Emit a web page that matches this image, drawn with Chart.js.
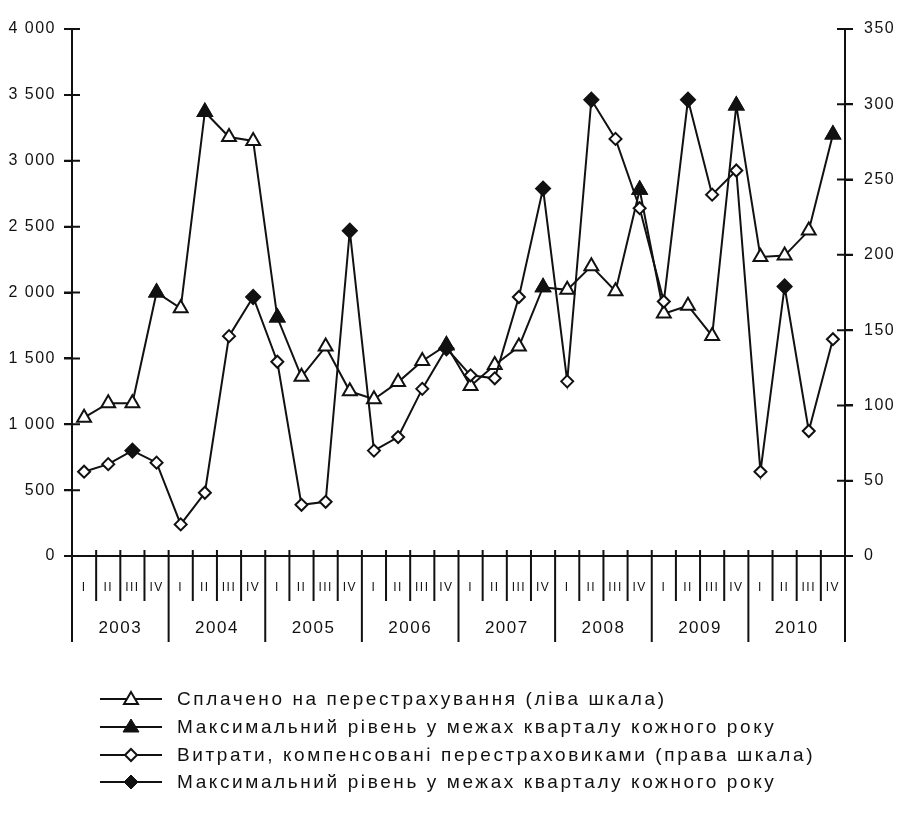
<!DOCTYPE html>
<html>
<head>
<meta charset="utf-8">
<script src="https://cdn.jsdelivr.net/npm/chart.js@4/dist/chart.umd.min.js"></script>
<style>
  html, body { margin: 0; padding: 0; background: #fff; }
  #wrap { position: relative; width: 904px; height: 834px; }
  #legend { position: absolute; left: 0; top: 0; font-family: "Liberation Sans", Arial, sans-serif; font-size: 19px; letter-spacing: 2.6px; color: #111; }
  .row { position: absolute; left: 100px; height: 24px; display: flex; align-items: center; white-space: nowrap; }
  .row svg { margin-right: 15px; }
</style>
</head>
<body>
<div id="wrap">
  <canvas id="chart" width="904" height="834"></canvas>
  <div id="legend"></div>
</div>
<script>
console.log("chart init");

const ink = '#111';

// quarters and years
const quarters = ['I', 'II', 'III', 'IV', 'I', 'II', 'III', 'IV', 'I', 'II', 'III', 'IV', 'I', 'II', 'III', 'IV',
                  'I', 'II', 'III', 'IV', 'I', 'II', 'III', 'IV', 'I', 'II', 'III', 'IV', 'I', 'II', 'III', 'IV'];
const years = ['2003', '2004', '2005', '2006', '2007', '2008', '2009', '2010'];

// Сплачено на перестрахування (ліва шкала)
const paidValues = [1050, 1160, 1160, 2000, 1880, 3370, 3180, 3150,
                    1810, 1360, 1590, 1250, 1190, 1320, 1480, 1600,
                    1290, 1450, 1590, 2040, 2020, 2200, 2010, 2780,
                    1840, 1900, 1670, 3420, 2270, 2280, 2470, 3200];

// Витрати, компенсовані перестраховиками (права шкала)
const costValues = [56, 61, 70, 62, 21, 42, 146, 172,
                    129, 34, 36, 216, 70, 79, 111, 138,
                    120, 118, 172, 244, 116, 303, 277, 231,
                    169, 303, 240, 256, 56, 179, 83, 144];

const leftTicks = [0, 4000, 500];
const rightTicks = [0, 350, 50];

const legendLabels = [
    'Сплачено на перестрахування (ліва шкала)',
    'Максимальний рівень у межах кварталу кожного року',
    'Витрати, компенсовані перестраховиками (права шкала)',
    'Максимальний рівень у межах кварталу кожного року'
];

// keep only the max quarter of each year, others null
const yearMax = (values) => {
    const out = values.map(() => null);
    years.forEach((y, k) => {
        const chunk = values.slice(k * 4, k * 4 + 4);
        const idx = chunk.indexOf(Math.max(...chunk));
        out[k * 4 + idx] = values[k * 4 + idx];
    });
    return out;
}

const fmt = (v) => String(v).replace(/\B(?=(\d{3})+(?!\d))/g, ' ');

const font = (size) => ({ family: '"Liberation Sans", Arial, sans-serif', size: size });

// wide spaced digits like the print
const spacing = {
    id: 'spacing',
    beforeDraw(chart) {
        chart.ctx.letterSpacing = '1.5px';
    }
};

// crossing ticks on y axes and the quarter / year separators under the x axis
const axisMarks = {
    id: 'axisMarks',
    afterDraw(chart) {
        const {ctx, scales} = chart;
        ctx.save();
        ctx.strokeStyle = ink;
        ctx.lineWidth = 2;
        ctx.beginPath();
        ['y', 'y1'].forEach(id => {
            const s = scales[id];
            const x0 = id === 'y' ? s.right : s.left;
            s.ticks.forEach((t, i) => {
                const py = s.getPixelForTick(i);
                ctx.moveTo(x0 - 8, py);
                ctx.lineTo(x0 + 8, py);
            });
        });
        const xs = scales.x;
        const half = (xs.getPixelForValue(1) - xs.getPixelForValue(0)) / 2;
        const base = xs.top;
        for (let i = 0; i <= quarters.length; i++) {
            const px = xs.getPixelForValue(i) - half;
            ctx.moveTo(px, base - 6);
            ctx.lineTo(px, i % 4 === 0 ? base + 86 : base + 45);
        }
        ctx.stroke();
        ctx.restore();
    }
};

const ctx = document.getElementById('chart').getContext('2d');

const myChart = new Chart(ctx, {
    type: 'line',
    data: {
        labels: quarters,
        datasets: [
            {
                label: legendLabels[0],
                data: paidValues,
                yAxisID: 'y',
                borderColor: ink,
                borderWidth: 2,
                pointStyle: 'triangle',
                pointRadius: 8,
                pointBorderWidth: 2,
                pointBackgroundColor: '#fff',
                pointBorderColor: ink,
                tension: 0,
                order: 4
            },
            {
                label: legendLabels[1],
                data: yearMax(paidValues),
                yAxisID: 'y',
                showLine: false,
                pointStyle: 'triangle',
                pointRadius: 8,
                pointBorderWidth: 2,
                pointBackgroundColor: ink,
                pointBorderColor: ink,
                order: 2
            },
            {
                label: legendLabels[2],
                data: costValues,
                yAxisID: 'y1',
                borderColor: ink,
                borderWidth: 2,
                pointStyle: 'rectRot',
                pointRadius: 6,
                pointBorderWidth: 2,
                pointBackgroundColor: '#fff',
                pointBorderColor: ink,
                tension: 0,
                order: 3
            },
            {
                label: legendLabels[3],
                data: yearMax(costValues),
                yAxisID: 'y1',
                showLine: false,
                pointStyle: 'rectRot',
                pointRadius: 7,
                pointBorderWidth: 2,
                pointBackgroundColor: ink,
                pointBorderColor: ink,
                order: 1
            }
        ]
    },
    options: {
        responsive: false,
        animation: false,
        layout: { padding: { top: 29, bottom: 177, left: 0, right: 0 } },
        plugins: {
            legend: { display: false },
            tooltip: { enabled: false }
        },
        scales: {
            x: {
                type: 'category',
                position: 'bottom',
                offset: true,
                grid: { display: false, drawTicks: false },
                border: { display: true, color: ink, width: 2 },
                ticks: {
                    color: ink,
                    padding: 24,
                    maxRotation: 0,
                    autoSkip: false,
                    font: font(12)
                },
                afterFit: (s) => { s.height = 61; }
            },
            x2: {
                type: 'category',
                position: 'bottom',
                labels: years,
                offset: true,
                grid: { display: false, drawTicks: false },
                border: { display: false },
                ticks: {
                    color: ink,
                    padding: 1,
                    maxRotation: 0,
                    font: font(17)
                },
                afterFit: (s) => { s.height = 40; }
            },
            y: {
                position: 'left',
                min: leftTicks[0],
                max: leftTicks[1],
                grid: { drawOnChartArea: false, color: ink, lineWidth: 2, tickLength: 8 },
                border: { display: true, color: ink, width: 2 },
                ticks: {
                    stepSize: leftTicks[2],
                    color: ink,
                    padding: 8,
                    callback: (v) => fmt(v),
                    font: font(16)
                },
                afterFit: (s) => { s.width = 72; }
            },
            y1: {
                position: 'right',
                min: rightTicks[0],
                max: rightTicks[1],
                grid: { drawOnChartArea: false, color: ink, lineWidth: 2, tickLength: 8 },
                border: { display: true, color: ink, width: 2 },
                ticks: {
                    stepSize: rightTicks[2],
                    color: ink,
                    padding: 11,
                    font: font(16)
                },
                afterFit: (s) => { s.width = 59; }
            }
        }
    },
    plugins: [spacing, axisMarks]
});

// legend below the chart: line with marker, then text
const symbols = [
    '<polygon points="31,5 38,17 24,17" fill="#fff" stroke="' + ink + '" stroke-width="2"/>',
    '<polygon points="31,4 39,17 23,17" fill="' + ink + '" stroke="' + ink + '" stroke-width="1"/>',
    '<polygon points="31,6 37,12 31,18 25,12" fill="#fff" stroke="' + ink + '" stroke-width="2"/>',
    '<polygon points="31,5 38,12 31,19 24,12" fill="' + ink + '" stroke="' + ink + '" stroke-width="1"/>'
];
const rowCenters = [699, 727, 755, 782];
const legend = document.getElementById('legend');
legendLabels.forEach((text, i) => {
    const row = document.createElement('div');
    row.className = 'row';
    row.style.top = (rowCenters[i] - 12) + 'px';
    row.innerHTML = '<svg width="62" height="24" viewBox="0 0 62 24">' +
        '<line x1="0" y1="12" x2="62" y2="12" stroke="' + ink + '" stroke-width="2"/>' + symbols[i] + '</svg>' +
        '<span>' + text + '</span>';
    legend.appendChild(row);
});

console.log("chart loaded");
</script>
</body>
</html>
